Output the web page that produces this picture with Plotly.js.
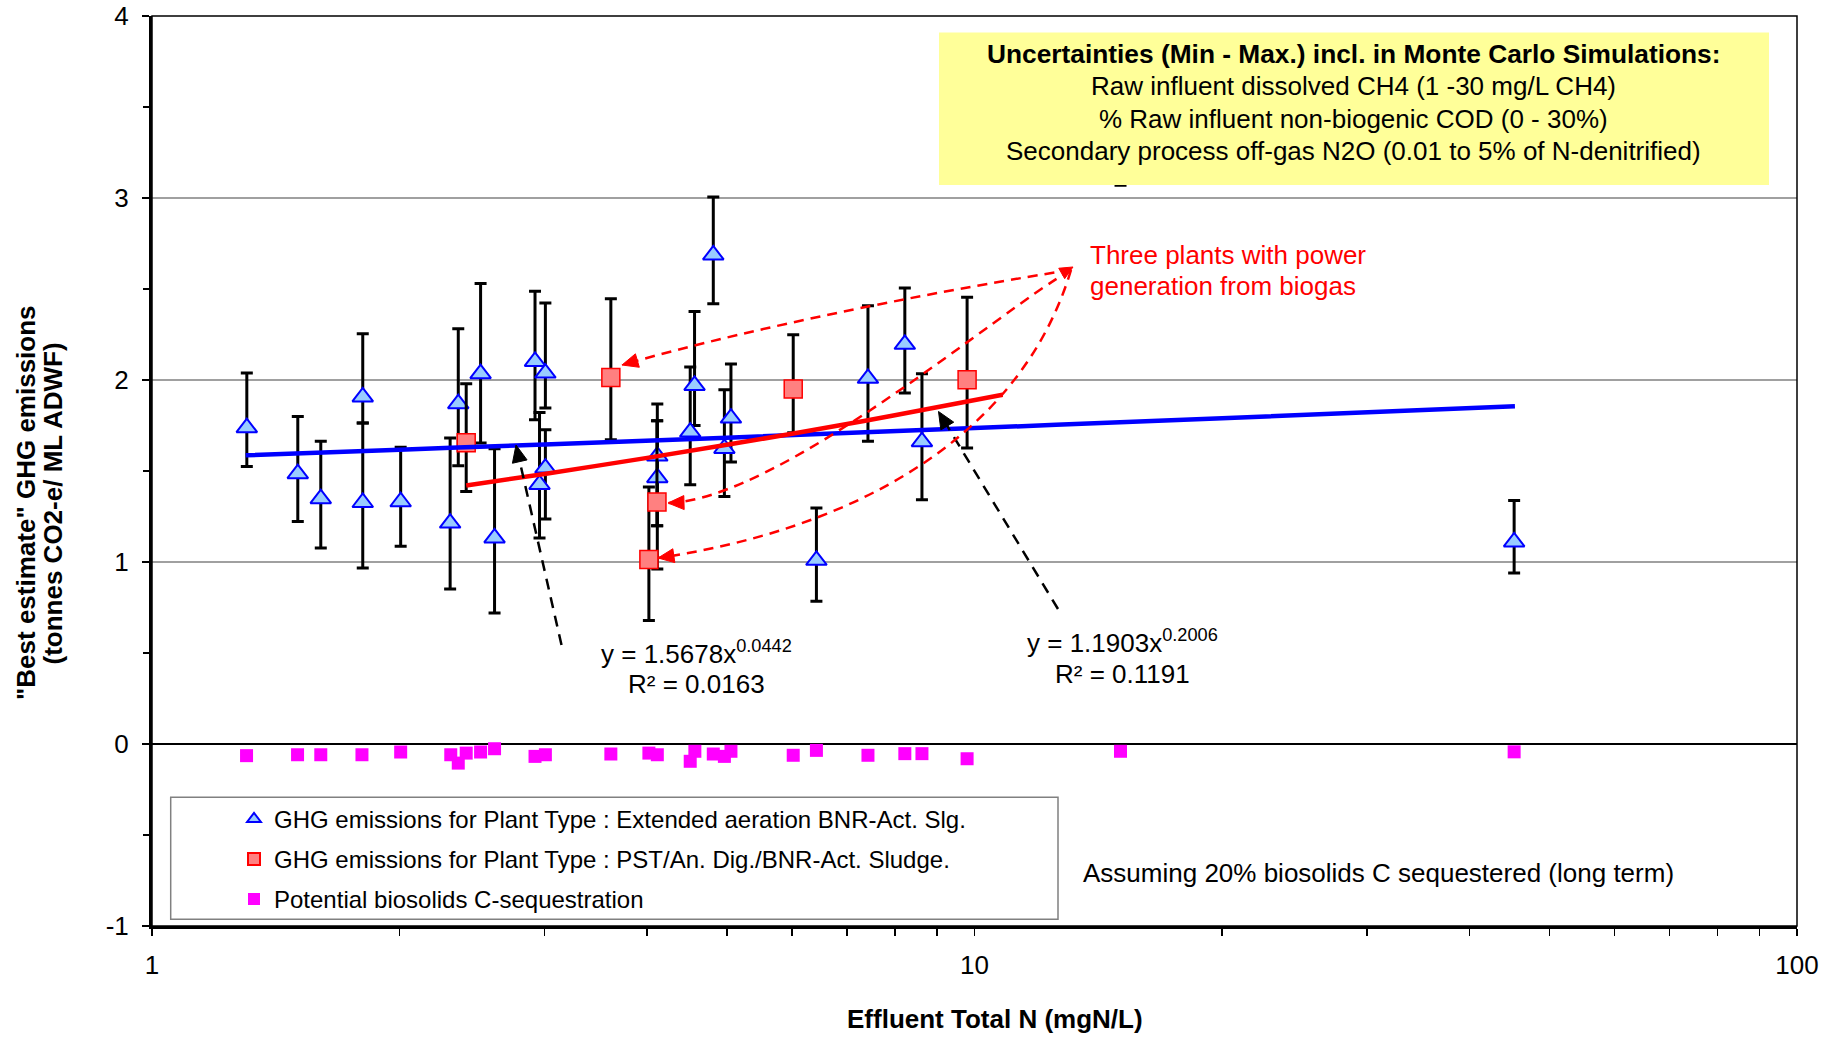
<!DOCTYPE html>
<html><head><meta charset="utf-8">
<script src="https://cdn.plot.ly/plotly-3.0.1.min.js"></script>
<style>html,body{margin:0;padding:0;background:#fff;}#chart{width:1823px;height:1038px;}</style>
</head><body><div id="chart"></div>
<script>
// ---- Data ----
const seriesNames = [
  'GHG emissions for Plant Type : Extended aeration BNR-Act. Slg.',
  'GHG emissions for Plant Type : PST/An. Dig./BNR-Act. Sludge.',
  'Potential biosolids C-sequestration'
];
// Extended aeration BNR plants (triangles): value, min, max
const extX    = [1.304, 1.504, 1.604, 1.804, 1.804, 2.006, 2.304, 2.357, 2.509, 2.609, 2.922, 3.008, 3.008, 2.959, 4.115, 4.115, 4.512, 4.567, 4.813, 4.965, 5.057, 6.424, 7.421, 8.228, 8.632, 15.05, 45.3];
const extY    = [1.738, 1.485, 1.348, 1.907, 1.327, 1.331, 1.214, 1.870, 2.035, 1.132, 2.102, 2.038, 1.516, 1.426, 1.582, 1.463, 1.714, 1.970, 2.687, 1.624, 1.791, 1.009, 2.009, 2.196, 1.661, 3.40, 1.110];
const extHigh = [2.038, 1.800, 1.663, 2.254, 1.764, 1.630, 1.681, 2.282, 2.530, 1.622, 2.487, 2.423, 1.727, 1.822, 1.868, 1.776, 2.071, 2.377, 3.005, 1.947, 2.088, 1.297, 2.408, 2.505, 2.035, 3.75, 1.338];
const extLow  = [1.525, 1.223, 1.077, 1.764, 0.967, 1.086, 0.852, 1.529, 1.654, 0.720, 1.782, 1.846, 1.236, 1.132, 1.199, 0.962, 1.425, 1.750, 2.419, 1.360, 1.549, 0.784, 1.663, 1.929, 1.342, 3.07, 0.940];
// PST / An. Dig. / BNR plants (squares)
const pstX    = [2.410, 3.613, 4.019, 4.111, 6.020, 9.795];
const pstY    = [1.655, 2.014, 1.014, 1.330, 1.950, 2.002];
const pstHigh = [1.980, 2.447, 1.412, 1.776, 2.249, 2.454];
const pstLow  = [1.388, 1.672, 0.679, 1.199, 1.710, 1.626];
// Potential biosolids C-sequestration
const seqX = [1.303, 1.503, 1.604, 1.800, 2.006, 2.308, 2.357, 2.410, 2.509, 2.609, 2.922, 3.008, 3.613, 4.019, 4.115, 4.512, 4.571, 4.813, 4.965, 5.057, 6.020, 6.424, 7.421, 8.228, 8.632, 9.795, 15.05, 45.3];
const seqY = [-0.064, -0.059, -0.059, -0.059, -0.044, -0.059, -0.105, -0.050, -0.044, -0.026, -0.068, -0.059, -0.055, -0.050, -0.059, -0.095, -0.040, -0.055, -0.068, -0.040, -0.062, -0.035, -0.062, -0.053, -0.053, -0.081, -0.040, -0.043];
// Power trend lines (as drawn)
const trendExtX = [1.3, 2, 3, 5, 10, 20, 45.4];
const trendExtY = [1.586, 1.617, 1.646, 1.683, 1.736, 1.790, 1.856];
const trendPstX = [2.41, 3, 4, 5, 6, 8, 10.82];
const trendPstY = [1.420, 1.484, 1.572, 1.644, 1.705, 1.806, 1.919];
// Axis ticks
const xTickVals = [1, 10, 100];
const xTickText = ['1', '10', '100'];
const xMinorVals = [2, 3, 4, 5, 6, 7, 8, 9, 20, 30, 40, 50, 60, 70, 80, 90];
const yTickVals = [-1, 0, 1, 2, 3, 4];
const yTickText = ['-1', '0', '1', '2', '3', '4'];
const yMinorVals = [-0.5, 0.5, 1.5, 2.5, 3.5];

// ---- Geometry helpers (layout only) ----
const W = 1823, H = 1038, ML = 152, MR = 26, MT = 16, MB = 112;
const PW = W - ML - MR, PH = H - MT - MB;
const X = p => (p - ML) / PW;
const Y = p => (MT + PH - p) / PH;
const P = (x, y) => X(x).toFixed(5) + ',' + Y(y).toFixed(5);
const FONT = 'Liberation Sans, Arial, sans-serif';

function head(tx, ty, fx, fy, len, hw, color) {
  const dx = tx - fx, dy = ty - fy, d = Math.hypot(dx, dy), ux = dx / d, uy = dy / d;
  const bx = tx - ux * len, by = ty - uy * len, nx = -uy, ny = ux;
  return {type: 'path', xref: 'paper', yref: 'paper', layer: 'above',
    path: 'M' + P(tx, ty) + ' L' + P(bx + nx * hw, by + ny * hw) + ' L' + P(bx - nx * hw, by - ny * hw) + ' Z',
    fillcolor: color, line: {color: color, width: 1}};
}
function straightArrow(fx, fy, tx, ty, color, dash, len, hw) {
  const dx = tx - fx, dy = ty - fy, d = Math.hypot(dx, dy);
  const bx = tx - dx / d * len * 0.8, by = ty - dy / d * len * 0.8;
  return [
    {type: 'path', xref: 'paper', yref: 'paper', layer: 'above', path: 'M' + P(fx, fy) + ' L' + P(bx, by),
     line: {color: color, width: 2.5, dash: dash}},
    head(tx, ty, fx, fy, len, hw, color)
  ];
}
function curveArrow(p0, c1, c2, p3, color, dash, len, hw) {
  return [
    {type: 'path', xref: 'paper', yref: 'paper', layer: 'above',
     path: 'M' + P(p0[0], p0[1]) + ' C' + P(c1[0], c1[1]) + ' ' + P(c2[0], c2[1]) + ' ' + P(p3[0], p3[1]),
     line: {color: color, width: 2.5, dash: dash}},
    head(p3[0], p3[1], c2[0], c2[1], len, hw, color)
  ];
}

const errOf = (ys, hi, lo) => ({
  type: 'data', symmetric: false,
  array: ys.map((v, i) => hi[i] - v), arrayminus: ys.map((v, i) => v - lo[i]),
  color: '#000000', thickness: 3, width: 6
});

const traces = [
  {x: extX, y: extY, type: 'scatter', mode: 'markers', name: seriesNames[0], legend: 'legend',
   marker: {symbol: 'triangle-up', size: 18, color: '#99CCFF', line: {color: '#0000FF', width: 2}},
   error_y: errOf(extY, extHigh, extLow)},
  {x: pstX, y: pstY, type: 'scatter', mode: 'markers', name: seriesNames[1], legend: 'legend2',
   marker: {symbol: 'square', size: 18, color: '#FF8080', line: {color: '#FF0000', width: 1.5}},
   error_y: errOf(pstY, pstHigh, pstLow)},
  {x: seqX, y: seqY, type: 'scatter', mode: 'markers', name: seriesNames[2], legend: 'legend3',
   marker: {symbol: 'square', size: 13, color: '#FF00FF'}},
  {x: trendExtX, y: trendExtY, type: 'scatter', mode: 'lines', showlegend: false,
   line: {color: '#0000FF', width: 4.5, shape: 'spline'}},
  {x: trendPstX, y: trendPstY, type: 'scatter', mode: 'lines', showlegend: false,
   line: {color: '#FF0000', width: 4.5, shape: 'spline'}}
];

const ann = (x, y, text, opts) => Object.assign({xref: 'paper', yref: 'paper', x: X(x), y: Y(y), text: text,
  showarrow: false, xanchor: 'center', yanchor: 'middle', font: {family: FONT, size: 26, color: '#000000'}}, opts || {});

const annotations = [
  ann(26, 503, '<b>"Best estimate" GHG emissions</b>', {textangle: -90}),
  ann(52.5, 504, '<b>(tonnes CO2-e/ ML ADWF)</b>', {textangle: -90}),
  ann(995, 1019, '<b>Effluent Total N (mgN/L)</b>'),
  ann(1353, 54, '<b>Uncertainties (Min - Max.) incl. in Monte Carlo Simulations:</b>', {font: {family: FONT, size: 26.3, color: '#000000'}}),
  ann(1353, 86.5, 'Raw influent dissolved CH4 (1 -30 mg/L CH4)'),
  ann(1353, 118.5, '% Raw influent non-biogenic COD (0 - 30%)'),
  ann(1353, 150.5, 'Secondary process off-gas N2O (0.01 to 5% of N-denitrified)'),
  ann(1088, 255, 'Three plants with power', {xanchor: 'left', font: {family: FONT, size: 26, color: '#FF0000'}}),
  ann(1088, 286, 'generation from biogas', {xanchor: 'left', font: {family: FONT, size: 26, color: '#FF0000'}}),
  ann(696, 652, 'y = 1.5678x<sup>0.0442</sup>'),
  ann(696, 684, 'R² = 0.0163'),
  ann(1122, 641, 'y = 1.1903x<sup>0.2006</sup>'),
  ann(1122, 674, 'R² = 0.1191'),
  ann(1378, 873, 'Assuming 20% biosolids C sequestered (long term)')
];

let shapes = [
  {type: 'rect', xref: 'paper', yref: 'paper', layer: 'above', x0: X(939), x1: X(1769), y0: Y(185), y1: Y(32.5),
   fillcolor: '#FFFF99', line: {width: 0}},
  {type: 'rect', xref: 'paper', yref: 'paper', layer: 'above', x0: X(170.7), x1: X(1058), y0: Y(919.3), y1: Y(797.3),
   fillcolor: '#FFFFFF', line: {color: '#808080', width: 1.5}},
  {type: 'rect', xref: 'paper', yref: 'paper', layer: 'above', x0: 0, x1: 1, y0: 0, y1: 1,
   line: {color: '#000000', width: 1.5}}
];
const RD = '10px,7px', BD = '11px,8px';
shapes = shapes.concat(
  straightArrow(561.5, 645, 516, 445, '#000000', BD, 17, 7.5),
  straightArrow(1058, 609, 938.5, 411.5, '#000000', BD, 17, 7.5),
  curveArrow([1071, 270], [960, 287], [760, 325], [622, 365], '#FF0000', RD, 16, 7),
  curveArrow([1071, 270], [1000, 310], [780, 500], [668, 503], '#FF0000', RD, 16, 7),
  curveArrow([1071, 270], [1020, 440], [850, 530], [658, 558], '#FF0000', RD, 16, 7),
  [head(1073, 267, 1045, 283, 13, 6, '#FF0000')]
);

const legendBase = {xanchor: 'left', yanchor: 'middle', bgcolor: 'rgba(0,0,0,0)', borderwidth: 0,
  itemsizing: 'constant', font: {family: FONT, size: 24, color: '#000000'}, itemclick: false, itemdoubleclick: false};

const layout = {
  width: W, height: H, margin: {l: ML, r: MR, t: MT, b: MB, pad: 0},
  paper_bgcolor: '#FFFFFF', plot_bgcolor: '#FFFFFF',
  font: {family: FONT, size: 26, color: '#000000'},
  showlegend: true,
  legend: Object.assign({x: X(234), y: Y(819.3)}, legendBase),
  legend2: Object.assign({x: X(234), y: Y(859.3)}, legendBase),
  legend3: Object.assign({x: X(234), y: Y(899.3)}, legendBase),
  xaxis: {type: 'log', range: [0, 2], tickmode: 'array', tickvals: xTickVals, ticktext: xTickText,
    ticks: 'outside', ticklen: 7, tickwidth: 1.5, tickcolor: '#000000', ticklabelstandoff: 7,
    tickfont: {family: FONT, size: 26, color: '#000000'},
    showline: true, linecolor: '#000000', linewidth: 3, showgrid: false, zeroline: false,
    minor: {tickmode: 'array', tickvals: xMinorVals, ticks: 'outside', ticklen: 7, tickwidth: 1.5, tickcolor: '#000000', showgrid: false}},
  yaxis: {range: [-1, 4], tickmode: 'array', tickvals: yTickVals, ticktext: yTickText,
    ticks: 'outside', ticklen: 7, tickwidth: 1.5, tickcolor: '#000000', ticklabelstandoff: 8,
    tickfont: {family: FONT, size: 26, color: '#000000'},
    showline: true, linecolor: '#000000', linewidth: 3,
    showgrid: true, gridcolor: '#A0A0A0', gridwidth: 1.5,
    zeroline: true, zerolinecolor: '#000000', zerolinewidth: 1.5,
    minor: {tickmode: 'array', tickvals: yMinorVals, ticks: 'outside', ticklen: 6, tickwidth: 1.5, tickcolor: '#000000', showgrid: false}},
  shapes: shapes,
  annotations: annotations,
  hovermode: false
};

Plotly.newPlot('chart', traces, layout, {staticPlot: true, displayModeBar: false});
</script>
</body></html>
